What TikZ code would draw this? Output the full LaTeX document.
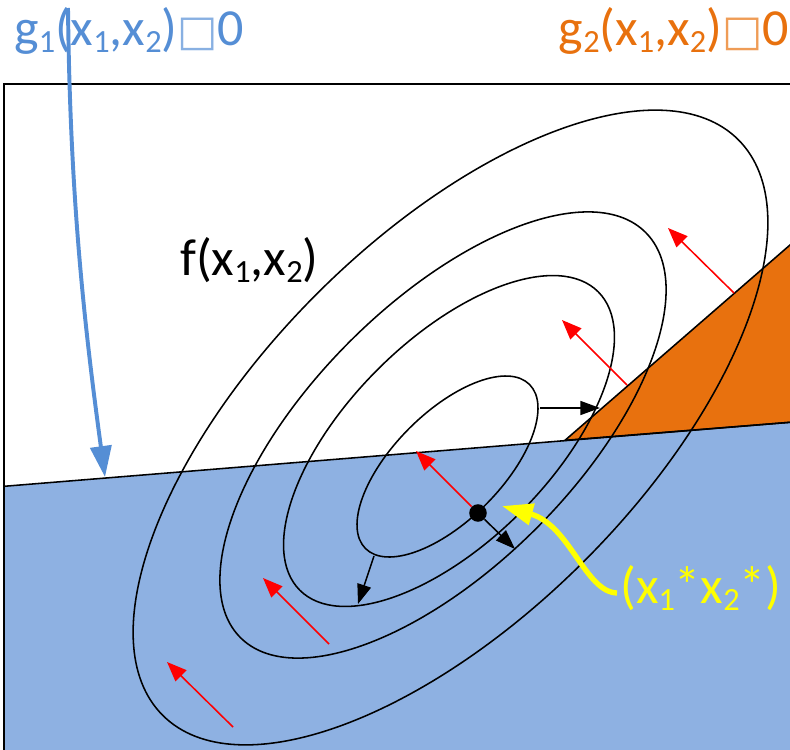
\documentclass[tikz,border=0pt]{standalone}
\usepackage{fontspec}
\usepackage{graphicx}
\setmainfont{Carlito}
\newfontfamily\symfont{DejaVu Sans}
\usetikzlibrary{arrows.meta,positioning,calc}
\definecolor{cConA}{HTML}{558ED5}
\definecolor{cFeas}{HTML}{8EB1E2}
\definecolor{cConB}{HTML}{E8710E}
\definecolor{cOpt}{HTML}{FFFF00}
\definecolor{cGrad}{HTML}{FF0000}
\newcommand{\lowidx}[1]{\raisebox{-0.14em}{\fontsize{23}{26}\selectfont #1}}
\newcommand{\tofu}[1]{{\color{#1!70}\resizebox{!}{19.5pt}{\symfont □}}}
\tikzset{
  lbl/.style={font=\fontsize{37}{44}\selectfont, inner sep=0pt, anchor=base west},
  frame/.style={draw=black, line width=1.4pt},
  border/.style={draw=black, line width=1.1pt},
  contour/.style={draw=black, line width=1.1pt},
  grad/.style={-{Triangle[length=14pt,width=11pt]}, line width=1.1pt, draw=cGrad},
  move/.style={-{Triangle[length=14pt,width=10pt]}, line width=1.1pt, draw=black},
  pointer/.style={-{Triangle[length=22pt,width=15pt]}, line width=#1},
}

\begin{document}
\begin{tikzpicture}[x=0.025cm, y=-0.025cm]
  \useasboundingbox (0,0) rectangle (790,750);
  \clip (0,0) rectangle (790,750);
  % feasible side of g1 and infeasible wedge of g2
  \fill[cFeas] (4,486.3) -- (800,421.5) -- (800,760) -- (4,760) -- cycle;
  \filldraw[cConB, border] (565,440.3) -- (800,236.3) -- (800,421.5) -- cycle;
  \draw[border] (4,486.3) -- (800,421.5);
  \draw[frame] (4,84) rectangle (800,760);
  % level sets of f
  \draw[contour, rotate around={45:(447.5,466.5)}] (447.5,466.5) ellipse [x radius=116, y radius=54];
  \draw[contour, rotate around={45:(449,441)}] (449,441) ellipse [x radius=211, y radius=101];
  \draw[contour, rotate around={45:(443,435)}] (443,435) ellipse [x radius=286.5, y radius=132];
  \draw[contour, rotate around={45:(450.5,427.5)}] (450.5,427.5) ellipse [x radius=407, y radius=189];

  \node[circle, fill=black, inner sep=0pt, minimum size=12.5pt] (xopt) at (478,513) {};

  \coordinate (gradA) at (416,451);
  \coordinate (gradB1) at (734,293);  \coordinate (gradB2) at (668,228);
  \coordinate (gradC1) at (627,385);  \coordinate (gradC2) at (562,320);
  \coordinate (gradD1) at (329,644);  \coordinate (gradD2) at (263,578);
  \coordinate (gradE1) at (233,727);  \coordinate (gradE2) at (167,662);
  \draw[grad] (xopt) -- (gradA);
  \draw[grad] (gradB1) -- (gradB2);
  \draw[grad] (gradC1) -- (gradC2);
  \draw[grad] (gradD1) -- (gradD2);
  \draw[grad] (gradE1) -- (gradE2);

  \coordinate (stepA1) at (540,408);  \coordinate (stepA2) at (600,408);
  \coordinate (stepB) at (515,549);
  \coordinate (stepC1) at (374,556);  \coordinate (stepC2) at (358,604);
  \draw[move] (stepA1) -- (stepA2);
  \draw[move] (xopt) -- (stepB);
  \draw[move] (stepC1) -- (stepC2);

  % labels
  \node[lbl, text=cConA] (g1lbl) at (14,45) {g\lowidx{1}(x\lowidx{1},x\lowidx{2})\tofu{cConA}0};
  \node[lbl, text=cConB, anchor=base east] (g2lbl) at (789,45) {g\lowidx{2}(x\lowidx{1},x\lowidx{2})\tofu{cConB}0};
  \node[lbl] (flbl) at (180,275) {f(x\lowidx{1},x\lowidx{2})};
  \node[lbl, text=cOpt] (optlbl) at (620,603) {(x\lowidx{1}*x\lowidx{2}*)};

  \coordinate (g1from) at (68,8);
  \coordinate (g1to) at (105,477);
  \draw[pointer=2.8pt, draw=cConA] (g1from) .. controls (70,200) and (85,330) .. (g1to);
  \coordinate (optfrom) at (617,593);
  \coordinate (optto) at (502,506);
  \draw[pointer=3.8pt, draw=cOpt] (optfrom) .. controls (585,592) and (570,525) .. (optto);
\end{tikzpicture}
\end{document}
